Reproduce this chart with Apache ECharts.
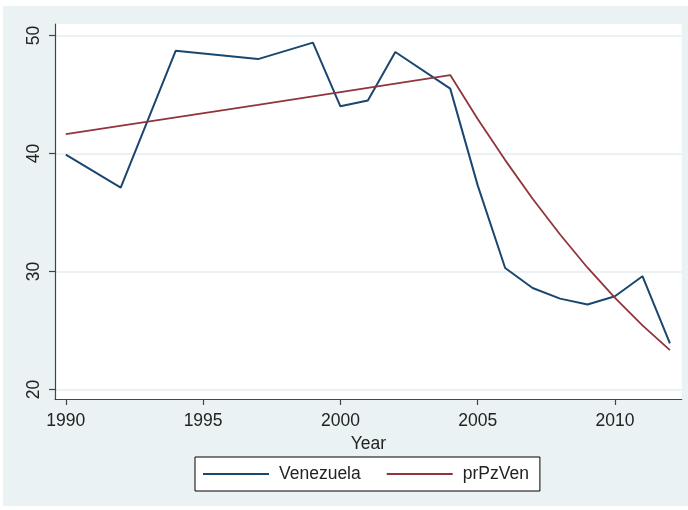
<!DOCTYPE html>
<html>
<head>
<meta charset="utf-8">
<script src="https://cdn.jsdelivr.net/npm/echarts@6/dist/echarts.min.js"></script>
<style>
  html, body { margin: 0; padding: 0; background: #ffffff; width: 688px; height: 510px; overflow: hidden; }
  #chart { position: absolute; left: 3px; top: 6px; width: 685px; height: 500px; }
</style>
</head>
<body>
<div id="chart"></div>
<script>
// Data
const venYears = [1990, 1992, 1994, 1997, 1999, 2000, 2001, 2002, 2004, 2005, 2006, 2007, 2008, 2009, 2010, 2011, 2012];
const venezuela = [39.9, 37.1, 48.7, 48.0, 49.4, 44.0, 44.5, 48.6, 45.5, 37.3, 30.3, 28.6, 27.7, 27.2, 27.9, 29.6, 23.9];

const prYears = [1990, 1997, 2004, 2005, 2006, 2007, 2008, 2009, 2010, 2011, 2012];
const prPzVen = [41.65, 44.12, 46.65, 42.93, 39.44, 36.16, 33.14, 30.32, 27.76, 25.43, 23.34];

const xTicks = [1990, 1995, 2000, 2005, 2010];
const yTicks = [20, 30, 40, 50];

const seriesNames = ['Venezuela', 'prPzVen'];
const colors = ['#1a476f', '#90353b'];

const font = 'Liberation Sans, Arial, sans-serif';
const fs = 17.5;

function zip(xs, ys) { return xs.map((x, i) => [x, ys[i]]); }

const chart = echarts.init(document.getElementById('chart'), null, { renderer: 'canvas' });
chart.setOption({
  backgroundColor: '#eaf2f3',
  animation: false,
  grid: {
    left: 52, right: 6.3, top: 18, bottom: 107,
    show: true, backgroundColor: '#ffffff', borderWidth: 0
  },
  xAxis: {
    type: 'value',
    min: 1989.607, max: 2012.429,
    name: 'Year', nameLocation: 'middle', nameGap: 30,
    nameTextStyle: { fontFamily: font, fontSize: fs, color: '#222' },
    axisLine: { show: true, lineStyle: { color: '#444', width: 1.2 } },
    axisTick: { show: true, length: 6, customValues: xTicks, lineStyle: { color: '#444', width: 1.2 } },
    axisLabel: { customValues: xTicks, margin: 13, fontFamily: font, fontSize: fs, color: '#222',
                 formatter: v => String(v) },
    splitLine: { show: false }
  },
  yAxis: {
    type: 'value',
    min: 19.195, max: 50.975,
    axisLine: { show: true, lineStyle: { color: '#444', width: 1.2 } },
    axisTick: { show: true, length: 6, customValues: yTicks, lineStyle: { color: '#444', width: 1.2 } },
    axisLabel: { customValues: yTicks, rotate: 90, margin: 12, fontFamily: font, fontSize: fs, color: '#222',
                 formatter: v => String(v) },
    splitLine: { show: true, lineStyle: { color: '#e6eef1', width: 1.5 } }
  },
  legend: {
    data: seriesNames,
    left: 192, top: 451,
    orient: 'horizontal',
    backgroundColor: '#ffffff',
    borderColor: '#000000', borderWidth: 1,
    padding: [8, 11, 8, 8],
    icon: 'rect',
    itemWidth: 66, itemHeight: 2, itemGap: 26,
    textStyle: { fontFamily: font, fontSize: fs, color: '#222', padding: [0, 0, 0, 5] }
  },
  series: [
    {
      name: seriesNames[0], type: 'line', data: zip(venYears, venezuela),
      symbol: 'none', color: colors[0],
      lineStyle: { color: colors[0], width: 2 }
    },
    {
      name: seriesNames[1], type: 'line', data: zip(prYears, prPzVen),
      symbol: 'none', color: colors[1],
      lineStyle: { color: colors[1], width: 1.8 }
    }
  ]
});
</script>
</body>
</html>
